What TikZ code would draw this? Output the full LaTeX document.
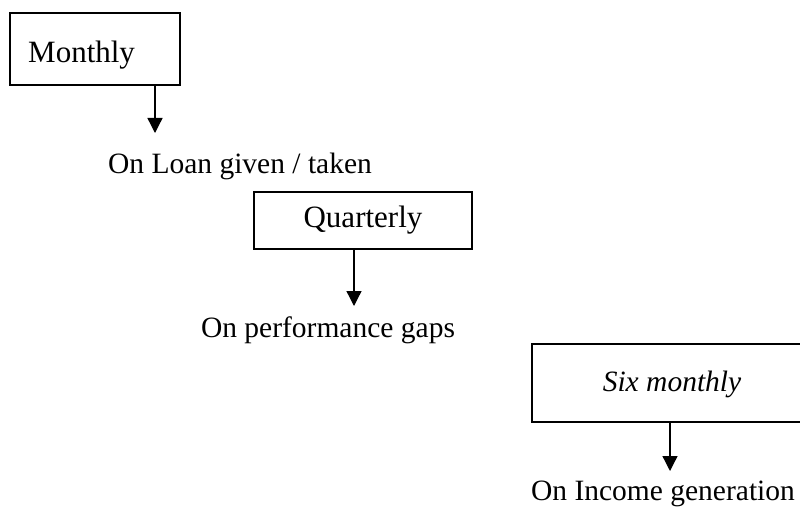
\documentclass[tikz,border=0pt]{standalone}
\usepackage{fontspec}
\setmainfont{Liberation Serif}
\usetikzlibrary{arrows.meta}
\begin{document}
\begin{tikzpicture}[x=1pt,y=-1pt,
  period/.style={draw=black, line width=1.2pt, inner sep=0pt, font=\fontsize{31}{35}\selectfont},
  topic/.style={inner sep=0pt, font=\fontsize{29.5}{33}\selectfont},
  link/.style={line width=1.3pt, -{Triangle[width=15pt,length=15pt]}}]
\useasboundingbox (0,0) rectangle (800,516);
% period boxes
\node[period, minimum width=170pt, minimum height=72pt] (monthly) at (95,49) {};
\node[font=\fontsize{31}{35}\selectfont, anchor=west, inner sep=0pt] (monthlyt) at (28,55) {Monthly};
\node[period, minimum width=218pt, minimum height=57pt] (quarterly) at (363,220.5) {Quarterly};
\draw[line width=1.2pt] (812,344) -- (532,344) -- (532,422) -- (812,422);
\coordinate (sixbot) at (670,422);
\node[topic, font=\fontsize{29.5}{33}\selectfont\itshape] (six) at (672,384) {Six monthly};
% review topics
\node[topic] (loan) at (240,166) {On Loan given / taken};
\node[topic] (gaps) at (328,330) {On performance gaps};
\node[topic] (income) at (663,494) {On Income generation};
% connectors
\coordinate (m1) at (155,85);
\coordinate (m2) at (155,133);
\draw[link] (m1) -- (m2);
\coordinate (q1) at (354,249);
\coordinate (q2) at (354,306);
\draw[link] (q1) -- (q2);
\coordinate (s2) at (670,471);
\draw[link] (sixbot) -- (s2);
\end{tikzpicture}
\end{document}
